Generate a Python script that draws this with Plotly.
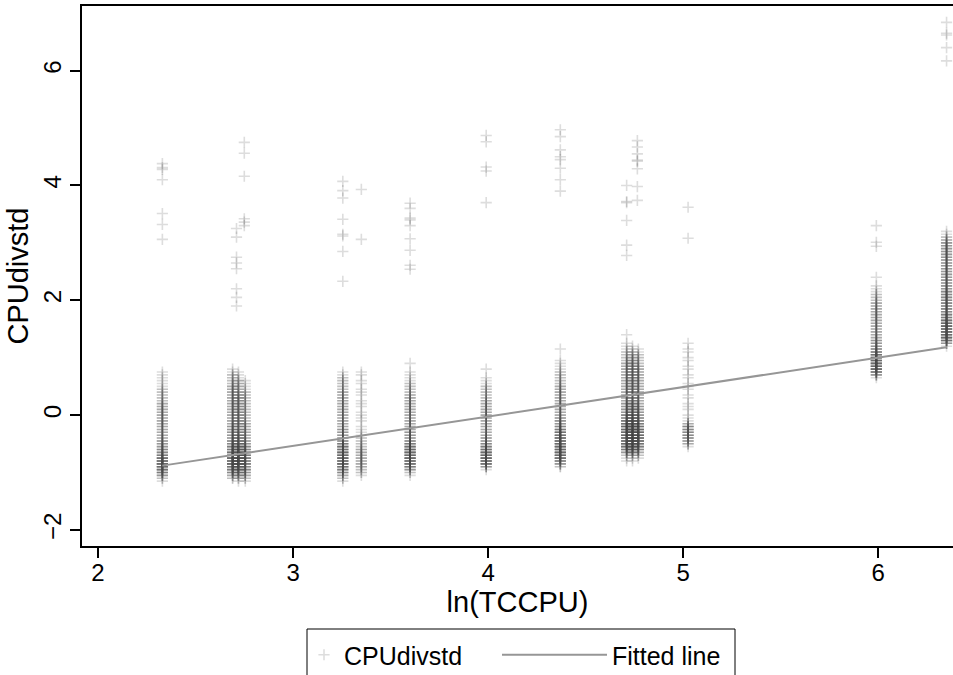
import plotly.graph_objects as go

# ---- data ----
# y bins (0.05 wide) for the lower clusters and for the two right-hand clusters
bins_low = [1.40, 1.35, 1.30, 1.25, 1.20, 1.15, 1.10, 1.05, 1.00, 0.95, 0.90, 0.85, 0.80,
            0.75, 0.70, 0.65, 0.60, 0.55, 0.50, 0.45, 0.40, 0.35, 0.30, 0.25, 0.20, 0.15,
            0.10, 0.05, 0.00, -0.05, -0.10, -0.15, -0.20, -0.25, -0.30, -0.35, -0.40, -0.45,
            -0.50, -0.55, -0.60, -0.65, -0.70, -0.75, -0.80, -0.85, -0.90, -0.95, -1.00,
            -1.05, -1.10, -1.15]
bins_high = [3.25, 3.20, 3.15, 3.10, 3.05, 3.00, 2.95, 2.90, 2.85, 2.80, 2.75, 2.70, 2.65,
             2.60, 2.55, 2.50, 2.45, 2.40, 2.35, 2.30, 2.25, 2.20, 2.15, 2.10, 2.05, 2.00,
             1.95, 1.90, 1.85, 1.80, 1.75, 1.70, 1.65, 1.60, 1.55, 1.50, 1.45, 1.40, 1.35,
             1.30, 1.25, 1.20, 1.15, 1.10, 1.05, 1.00, 0.95, 0.90, 0.85, 0.80, 0.75, 0.70, 0.65]

low_x = [2.33, 2.69, 2.72, 2.755, 3.255, 3.35, 3.60, 3.99, 4.37, 4.71, 4.74, 4.77, 5.025]
low_counts = [
    # 2.33
    [0, 0, 0, 0, 0, 0, 0, 0, 0, 0, 0, 0, 0,
     1, 1, 1, 1, 1, 1, 2, 2, 2, 2, 2, 3, 3, 3, 3, 3, 3, 3, 3, 3, 3, 3, 3, 3,
     4, 4, 4, 5, 5, 6, 7, 8, 8, 8, 7, 6, 4, 2, 1],
    # 2.69
    [0, 0, 0, 0, 0, 0, 0, 0, 0, 0, 0, 0,
     1, 1, 2, 2, 2, 2, 3, 3, 3, 3, 3, 3, 3, 3, 3, 3, 3, 3, 3, 3, 4, 4, 4, 4, 4,
     5, 5, 6, 6, 7, 7, 8, 8, 8, 7, 6, 5, 3, 2, 0],
    # 2.72
    [0, 0, 0, 0, 0, 0, 0, 0, 0, 0, 0, 0, 0,
     1, 1, 1, 2, 2, 2, 2, 2, 3, 3, 3, 3, 3, 3, 3, 3, 3, 3, 3, 3, 3, 3, 4, 4, 4,
     5, 5, 6, 6, 7, 7, 7, 7, 6, 5, 4, 3, 2, 1],
    # 2.755
    [0, 0, 0, 0, 0, 0, 0, 0, 0, 0, 0, 0, 0, 0, 0, 0,
     1, 1, 1, 1, 2, 2, 2, 2, 2, 2, 2, 2, 2, 2, 2, 3, 3, 3, 3, 3, 3, 4, 4, 5, 5,
     6, 6, 6, 6, 6, 5, 5, 4, 3, 2, 1],
    # 3.255
    [0, 0, 0, 0, 0, 0, 0, 0, 0, 0, 0, 0, 0,
     1, 1, 2, 2, 2, 2, 2, 3, 3, 3, 3, 3, 3, 3, 3, 3, 3, 3, 3, 3, 4, 4, 4, 4, 5,
     6, 7, 7, 8, 8, 8, 8, 8, 7, 6, 5, 3, 2, 1],
    # 3.35
    [0, 0, 0, 0, 0, 0, 0, 0, 0, 0, 0, 0, 0,
     1, 1, 0, 1, 1, 0, 1, 1, 1, 0, 1, 1, 1, 0, 1, 1, 1, 1, 0, 1, 1, 1, 1, 2, 2,
     2, 2, 3, 3, 3, 3, 3, 3, 3, 2, 2, 1, 0, 0],
    # 3.60
    [0, 0, 0, 0, 0, 0, 0, 0, 0, 0, 1, 0, 0, 1,
     1, 1, 1, 2, 2, 2, 2, 3, 3, 3, 3, 3, 3, 3, 3, 3, 3, 3, 3, 3, 4, 4, 4, 5, 6,
     7, 8, 8, 8, 8, 8, 7, 6, 4, 2, 1, 0, 0],
    # 3.99
    [0, 0, 0, 0, 0, 0, 0, 0, 0, 0, 0, 0, 1, 0, 0,
     1, 1, 1, 2, 2, 2, 2, 2, 3, 3, 3, 3, 3, 3, 3, 3, 3, 3, 3, 3, 3, 4, 4, 5, 6,
     7, 8, 8, 8, 8, 7, 4, 1, 0, 0, 0, 0],
    # 4.37
    [0, 0, 0, 0, 0, 1, 0, 0, 0,
     1, 1, 1, 1, 2, 2, 2, 2, 2, 3, 3, 3, 3, 3, 3, 3, 3, 3, 3, 3, 4, 4, 4, 5, 6,
     7, 7, 8, 8, 8, 8, 8, 8, 8, 7, 6, 4, 2, 0, 0, 0, 0, 0],
    # 4.71
    [1, 0, 0, 1, 1, 1, 2, 2, 2, 2, 3, 3, 3, 3, 3, 3, 3, 3, 3, 3, 3, 3, 3, 3,
     4, 4, 4, 4, 5, 5, 6, 7, 8, 8, 8, 8, 8, 8, 8, 7, 6, 4, 2, 1, 1,
     0, 0, 0, 0, 0, 0, 0],
    # 4.74
    [0, 0, 0, 0, 1, 1, 2, 2, 2, 3, 3, 3, 3, 3, 3, 3, 3, 3, 3, 3, 3, 3, 3, 3,
     4, 4, 4, 4, 5, 5, 6, 7, 8, 8, 8, 8, 8, 8, 8, 7, 6, 4, 2, 1, 1,
     0, 0, 0, 0, 0, 0, 0],
    # 4.77
    [0, 0, 0, 0, 0, 1, 1, 2, 2, 2, 2, 3, 3, 3, 3, 3, 3, 3, 3, 3, 3, 3, 3, 3, 3,
     4, 4, 4, 4, 5, 5, 6, 7, 8, 8, 8, 8, 8, 7, 6, 5, 3, 2, 1, 0,
     0, 0, 0, 0, 0, 0, 0],
    # 5.025
    [0, 0, 0,
     1, 0, 1, 1, 0, 1, 1, 0, 1, 1, 0, 1, 1, 0, 1, 1, 1, 0, 1, 1, 0, 1, 1, 1, 0,
     1, 1, 1, 3, 5, 5, 5, 5, 5, 4, 3, 1,
     0, 0, 0, 0, 0, 0, 0, 0, 0, 0, 0, 0],
]

high_x = [5.99, 6.35]
high_counts = [
    # 5.99
    [0, 0, 0, 0, 0, 0, 0, 0, 0, 0, 0, 0, 0, 0, 0, 0, 0,
     1, 0, 0, 1, 1, 1, 2, 2, 2, 3, 3, 3, 3, 3, 3, 3, 3, 3, 3, 3, 3, 3,
     4, 4, 4, 5, 6, 7, 8, 8, 8, 8, 8, 7, 4, 1],
    # 6.35
    [0, 1, 1, 2, 3, 4, 4, 4, 4, 4, 4, 4, 4, 4, 4, 4, 4, 4, 4, 4, 4, 4,
     5, 5, 5, 5, 5, 5, 5, 5, 6, 6, 7, 8, 8, 8, 8, 8, 8, 7, 4, 1,
     0, 0, 0, 0, 0, 0, 0, 0, 0, 0, 0],
]

outlier_x = ([2.33] * 7 + [2.71] * 8 + [2.75] * 6 + [3.255] * 8 + [3.35] * 2 + [3.60] * 9
             + [3.99] * 5 + [4.37] * 8 + [4.71] * 6 + [4.765] * 8 + [5.025] * 2 + [5.99] * 3 + [6.35] * 5)
outlier_y = [4.38, 4.31, 4.28, 4.10, 3.51, 3.32, 3.06,
             3.25, 3.10, 2.75, 2.65, 2.55, 2.20, 2.05, 1.90,
             4.75, 4.56, 4.16, 3.42, 3.36, 3.30,
             4.07, 3.91, 3.78, 3.41, 3.15, 3.12, 2.85, 2.33,
             3.93, 3.06,
             3.69, 3.60, 3.43, 3.40, 3.30, 3.07, 2.87, 2.61, 2.54,
             4.87, 4.76, 4.32, 4.25, 3.70,
             4.97, 4.85, 4.62, 4.50, 4.45, 4.30, 4.10, 3.90,
             4.00, 3.72, 3.70, 3.39, 2.96, 2.78,
             4.78, 4.67, 4.55, 4.44, 4.42, 4.29, 3.98, 3.74,
             3.62, 3.08,
             3.30, 3.01, 2.94,
             6.84, 6.65, 6.62, 6.40, 6.17]

fit_x = [2.33, 6.35]
fit_y = [-0.88, 1.18]

x_ticks = [2, 3, 4, 5, 6]
y_ticks = [-2, 0, 2, 4, 6]

# ---- expand binned counts into individual points ----
xs, ys = [], []
for bins, cxs, counts in ((bins_low, low_x, low_counts), (bins_high, high_x, high_counts)):
    for cx, ct in zip(cxs, counts):
        for v, n in zip(bins, ct):
            xs.extend([cx] * n)
            ys.extend([v] * n)
xs.extend(outlier_x)
ys.extend(outlier_y)

FONT = "Liberation Sans, Arial, sans-serif"
W, H = 953, 675
L, R, T, B = 82, 0, 6, 129
PW, PH = W - L - R, H - T - B


def px_x(p):
    return (p - L) / PW


def px_y(p):
    return (H - B - p) / PH


MARK = "rgba(75,75,75,0.19)"

fig = go.Figure()
fig.add_trace(go.Scatter(
    x=xs, y=ys, mode="markers", name="CPUdivstd", legend="legend",
    marker=dict(symbol="cross-thin", size=8, color=MARK, line=dict(width=1.6, color=MARK)),
))
fig.add_trace(go.Scatter(
    x=fit_x, y=fit_y, mode="lines", name="Fitted line", legend="legend2",
    line=dict(color="rgb(150,150,150)", width=2),
))

# legend frame
fig.add_shape(type="rect", xref="paper", yref="paper",
              x0=px_x(307), x1=px_x(735), y0=px_y(629), y1=px_y(720),
              line=dict(color="black", width=1), fillcolor="rgba(0,0,0,0)", layer="above")

fig.update_layout(
    width=W, height=H,
    margin=dict(l=L, r=R, t=T, b=B, autoexpand=False),
    paper_bgcolor="white", plot_bgcolor="white",
    font=dict(family=FONT, size=24, color="black"),
    showlegend=True,
    legend=dict(orientation="h", x=px_x(304), y=px_y(655), xanchor="left", yanchor="middle",
                borderwidth=0, bgcolor="rgba(0,0,0,0)", font=dict(size=25), itemwidth=30),
    legend2=dict(orientation="h", x=px_x(497), y=px_y(655), xanchor="left", yanchor="middle",
                 borderwidth=0, bgcolor="rgba(0,0,0,0)", font=dict(size=25), itemwidth=105),
)
fig.update_xaxes(
    range=[1.918, 6.383], tickmode="array", tickvals=x_ticks, automargin=False,
    ticks="outside", ticklen=10, tickcolor="black", tickwidth=1.5,
    showline=True, linecolor="black", linewidth=1.5, mirror=True,
    showgrid=False, zeroline=False, ticklabelstandoff=-6,
    title=dict(text="ln(TCCPU)", standoff=0), tickfont=dict(size=24),
)
fig.update_yaxes(
    range=[-2.28, 7.125], tickmode="array", tickvals=y_ticks, tickangle=-90, automargin=False,
    ticks="outside", ticklen=10, tickcolor="black", tickwidth=1.5,
    showline=True, linecolor="black", linewidth=1.5, mirror=False,
    showgrid=False, zeroline=False,
    title=dict(text="CPUdivstd", standoff=2), tickfont=dict(size=24),
)

fig.write_html(
    "out.html",
    config={"displayModeBar": False},
    post_script="document.body.style.margin='0px';document.body.style.padding='0px';",
)
